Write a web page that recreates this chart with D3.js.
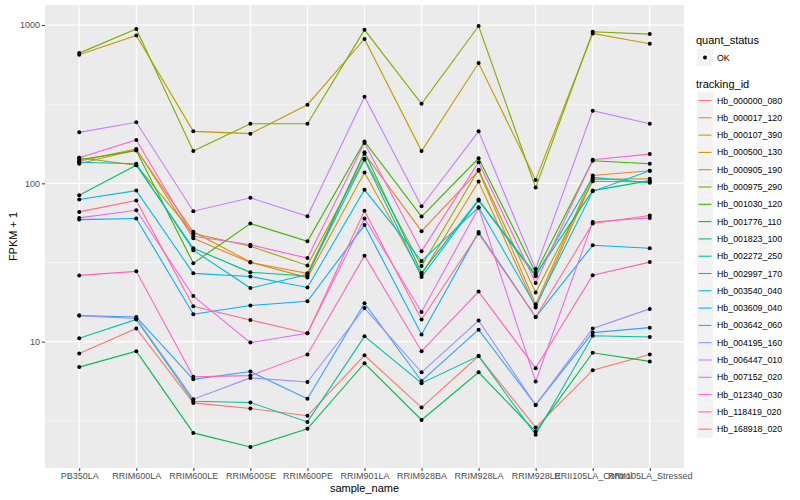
<!DOCTYPE html>
<html>
<head>
<meta charset="utf-8">
<script src="https://cdn.jsdelivr.net/npm/d3@7"></script>
<style>
  body { margin: 0; background: #fff; }
  text { font-family: "Liberation Sans", Arial, sans-serif; }
</style>
</head>
<body>
<div class="chart"></div>
<script>
const samples = ["PB350LA", "RRIM600LA", "RRIM600LE", "RRIM600SE", "RRIM600PE", "RRIM901LA",
  "RRIM928BA", "RRIM928LA", "RRIM928LE", "RRII105LA_Control", "RRII105LA_Stressed"]

const trackingIds = ["Hb_000000_080", "Hb_000017_120", "Hb_000107_390", "Hb_000500_130",
  "Hb_000905_190", "Hb_000975_290", "Hb_001030_120", "Hb_001776_110", "Hb_001823_100",
  "Hb_002272_250", "Hb_002997_170", "Hb_003540_040", "Hb_003609_040", "Hb_003642_060",
  "Hb_004195_160", "Hb_006447_010", "Hb_007152_020", "Hb_012340_030", "Hb_118419_020",
  "Hb_168918_020"]

const hueColors = ["#F8766D", "#EA8331", "#D89000", "#C09B00", "#A3A500", "#7CAE00", "#39B600",
  "#00BB4E", "#00BF7D", "#00C1A3", "#00BFC4", "#00BAE0", "#00B0F6", "#35A2FF", "#9590FF",
  "#C77CFF", "#E76BF3", "#FA62DB", "#FF62BC", "#FF6C91"]

// FPKM + 1, one row per tracking id, one value per sample
const fpkm = [
  [8.4, 12.1, 4.1, 3.78, 3.4, 8.2, 3.83, 8.1, 2.87, 6.6, 8.3],
  [138, 165, 45, 31.6, 27, 154, 49.9, 120, 17.2, 112, 120],
  [133, 163, 49.4, 31.8, 25.4, 117, 26.5, 102.6, 16.4, 106, 107],
  [650, 859, 213, 206, 314, 817, 160, 576, 105, 885, 762],
  [145, 130, 48.2, 40, 30.3, 143, 30, 122, 20.4, 103, 102],
  [665, 944, 160, 238, 238, 933, 318, 986, 94, 908, 877],
  [141, 161, 31.3, 55.7, 43, 184, 61.7, 144, 27.2, 139, 133],
  [6.9, 8.7, 2.65, 2.16, 2.81, 7.3, 3.2, 6.4, 2.7, 8.5, 7.5],
  [84, 130, 38.9, 27.4, 26, 157, 27.2, 79, 26.5, 90, 104],
  [10.5, 13.8, 4.2, 4.12, 3.11, 10.8, 5.46, 8.1, 2.58, 10.9, 10.7],
  [136, 133, 37.8, 21.8, 26.5, 141, 25.6, 78, 25.9, 109, 100.7],
  [79, 90, 27, 25.8, 22, 91, 32.3, 70.6, 16.8, 89, 120],
  [59, 60, 14.9, 16.9, 18, 54.5, 11.1, 49.2, 14.3, 40.6, 38.9],
  [14.6, 14.3, 5.78, 6.47, 4.35, 17.5, 5.64, 11.9, 3.98, 11.4, 12.25],
  [14.6, 14.0, 4.33, 5.9, 5.56, 16.3, 6.4, 13.6, 3.98, 12.1, 16.1],
  [210, 243, 66.7, 81, 62, 353, 71.6, 213, 28.8, 288, 238],
  [60.5, 67.6, 19.4, 9.86, 11.3, 60, 15.4, 70, 5.6, 57, 60.5],
  [145, 188, 46.3, 40.9, 33.7, 180, 37.3, 136, 23.5, 141, 153],
  [26.2, 27.8, 6.0, 6.1, 8.3, 34.9, 8.7, 20.7, 6.8, 26.3, 31.8],
  [66, 78, 16.7, 13.7, 11.3, 67, 13.8, 48.2, 14.3, 55.7, 62.6]
]

const yTicks = [10, 100, 1000]
const yMinor = [Math.sqrt(10), Math.sqrt(1000), Math.sqrt(100000)]

const width = 800
const height = 500
const panel = { left: 45, right: 684, top: 5, bottom: 468 }

const series = trackingIds.map((id, i) => ({
  id,
  color: hueColors[i],
  values: samples.map((s, j) => ({ sample: s, value: fpkm[i][j] }))
}))

const allValues = fpkm.flat()
const logMin = Math.log10(d3.min(allValues))
const logMax = Math.log10(d3.max(allValues))
const pad = (logMax - logMin) * 0.05

const xScale = d3.scalePoint()
  .domain(samples)
  .range([panel.left, panel.right])
  .padding(0.6)

const yScale = d3.scaleLog()
  .domain([Math.pow(10, logMin - pad), Math.pow(10, logMax + pad)])
  .range([panel.bottom, panel.top])

const svg = d3.select(".chart").append("svg")
  .attr("width", width)
  .attr("height", height)

svg.append("rect")
  .attr("x", panel.left)
  .attr("y", panel.top)
  .attr("width", panel.right - panel.left)
  .attr("height", panel.bottom - panel.top)
  .attr("fill", "#EBEBEB")

// grid
svg.append("g").selectAll("line")
  .data(yMinor)
  .join("line")
    .attr("x1", panel.left).attr("x2", panel.right)
    .attr("y1", d => yScale(d)).attr("y2", d => yScale(d))
    .attr("stroke", "#fff").attr("stroke-width", 0.55)

svg.append("g").selectAll("line")
  .data(yTicks)
  .join("line")
    .attr("x1", panel.left).attr("x2", panel.right)
    .attr("y1", d => yScale(d)).attr("y2", d => yScale(d))
    .attr("stroke", "#fff").attr("stroke-width", 1.1)

svg.append("g").selectAll("line")
  .data(samples)
  .join("line")
    .attr("x1", d => xScale(d)).attr("x2", d => xScale(d))
    .attr("y1", panel.top).attr("y2", panel.bottom)
    .attr("stroke", "#fff").attr("stroke-width", 1.1)

// lines
const lineGenerator = d3.line()
  .x(d => xScale(d.sample))
  .y(d => yScale(d.value))

svg.append("g").selectAll("path")
  .data(series)
  .join("path")
    .attr("d", d => lineGenerator(d.values))
    .attr("fill", "none")
    .attr("stroke", d => d.color)
    .attr("stroke-width", 1.1)

// points
svg.append("g").selectAll("circle")
  .data(series.flatMap(d => d.values))
  .join("circle")
    .attr("cx", d => xScale(d.sample))
    .attr("cy", d => yScale(d.value))
    .attr("r", 2)
    .attr("fill", "#000")

// axes
const yAxis = d3.axisLeft(yScale)
  .tickValues(yTicks)
  .tickFormat(d3.format("d"))
  .tickSize(3)
  .tickPadding(2)

svg.append("g")
  .attr("transform", `translate(${panel.left},0)`)
  .call(yAxis)
  .call(g => g.select(".domain").remove())
  .call(g => g.selectAll(".tick line").attr("stroke", "#333"))
  .call(g => g.selectAll(".tick text")
    .attr("fill", "#4D4D4D")
    .style("font-size", "9px"))

const xAxis = d3.axisBottom(xScale)
  .tickSize(3)
  .tickPadding(2)

svg.append("g")
  .attr("transform", `translate(0,${panel.bottom})`)
  .call(xAxis)
  .call(g => g.select(".domain").remove())
  .call(g => g.selectAll(".tick line").attr("stroke", "#333"))
  .call(g => g.selectAll(".tick text")
    .attr("fill", "#4D4D4D")
    .style("font-size", "9px"))

svg.append("text")
  .attr("x", (panel.left + panel.right) / 2)
  .attr("y", 492)
  .attr("text-anchor", "middle")
  .style("font-size", "11px")
  .text("sample_name")

svg.append("text")
  .attr("transform", `translate(17,${(panel.top + panel.bottom) / 2}) rotate(-90)`)
  .attr("text-anchor", "middle")
  .style("font-size", "11px")
  .text("FPKM + 1")

// legends
const legend = svg.append("g")

legend.append("text")
  .attr("x", 696).attr("y", 44)
  .style("font-size", "11px")
  .text("quant_status")

legend.append("rect")
  .attr("x", 697).attr("y", 49)
  .attr("width", 16).attr("height", 17)
  .attr("fill", "#F2F2F2")

legend.append("circle")
  .attr("cx", 705).attr("cy", 57.5)
  .attr("r", 2)
  .attr("fill", "#000")

legend.append("text")
  .attr("x", 717).attr("y", 60.5)
  .style("font-size", "8.8px")
  .text("OK")

legend.append("text")
  .attr("x", 696).attr("y", 88)
  .style("font-size", "11px")
  .text("tracking_id")

const keyY = i => 92 + i * 17.3

const keys = legend.selectAll(".key")
  .data(series)
  .join("g")
    .attr("class", "key")
    .attr("transform", (d, i) => `translate(697,${keyY(i)})`)

keys.append("rect")
  .attr("width", 16).attr("height", 17)
  .attr("fill", "#F2F2F2")

keys.append("line")
  .attr("x1", 1.5).attr("x2", 14.5)
  .attr("y1", 8.5).attr("y2", 8.5)
  .attr("stroke", d => d.color)
  .attr("stroke-width", 1.1)

keys.append("text")
  .attr("x", 20).attr("y", 11.5)
  .style("font-size", "8.8px")
  .text(d => d.id)
</script>
</body>
</html>
